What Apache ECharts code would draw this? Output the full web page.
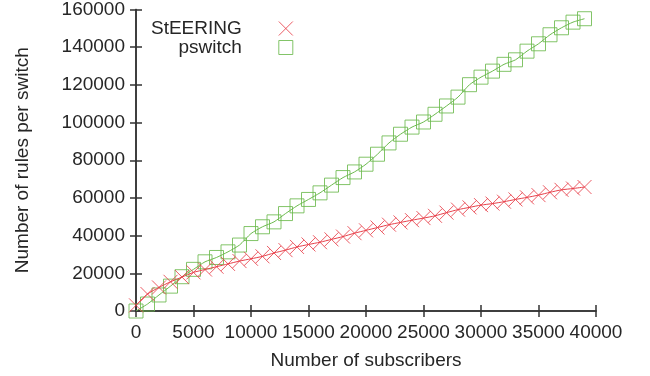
<!DOCTYPE html>
<html>
<head>
<meta charset="utf-8">
<script src="https://cdn.jsdelivr.net/npm/echarts@6/dist/echarts.min.js"></script>
<style>
  html, body { margin: 0; padding: 0; background: #fff; }
  #chart { width: 650px; height: 376px; }
</style>
</head>
<body>
<div id="chart"></div>
<script>
// number of subscribers (x)
const subscribers = [
  0, 1000, 2000, 3000, 4000, 5000, 6000, 7000, 8000, 9000,
  10000, 11000, 12000, 13000, 14000, 15000, 16000, 17000, 18000, 19000,
  20000, 21000, 22000, 23000, 24000, 25000, 26000, 27000, 28000, 29000,
  30000, 31000, 32000, 33000, 34000, 35000, 36000, 37000, 38000, 39000
];

// rules per switch
const steering = [
  3000, 9000, 12500, 15500, 18000, 20500, 22000, 23500, 25000, 26500,
  27700, 29000, 30800, 32300, 34000, 35300, 36500, 38000, 39500, 41300,
  42800, 44300, 45800, 47000, 48200, 49300, 50500, 52200, 53800, 55000,
  56200, 57000, 58000, 59200, 60300, 61500, 63000, 64300, 65000, 65800
];

const pswitch = [
  0, 3700, 8500, 13200, 18200, 22100, 26100, 28400, 31400, 35000,
  41100, 44700, 47300, 51700, 55800, 59200, 62700, 66800, 70800, 73800,
  77900, 83200, 89200, 93800, 97600, 100300, 104400, 108800, 113500, 120100,
  124100, 127300, 130900, 133300, 137900, 141800, 146600, 150300, 153300, 155100
];

const xTicks = { min: 0, max: 40000, interval: 5000 };
const yTicks = { min: 0, max: 160000, interval: 20000 };

const RED = '#e8404a';
const GREEN = '#6cba4e';
const INK = '#262626';
const CROSS = 'path://M0,0L10,10M10,0L0,10';
const FONT = 'Liberation Sans';
const FS = 19;

const chart = echarts.init(document.getElementById('chart'));

function pairs(ys) {
  return subscribers.map((x, i) => [x, ys[i]]);
}

function plain(v) {
  return String(v);
}

function mirrorAxis(pos, ticks) {
  return {
    type: 'value',
    position: pos,
    min: ticks.min,
    max: ticks.max,
    interval: ticks.interval,
    axisLine: { show: true, lineStyle: { color: '#333', width: 1.5 } },
    axisTick: { show: true, inside: true, length: 6, lineStyle: { color: '#333', width: 1.5 } },
    axisLabel: { show: false },
    splitLine: { show: false }
  };
}

chart.setOption({
  animation: false,
  backgroundColor: '#fff',
  textStyle: { fontFamily: FONT },
  grid: { left: 136, right: 54, top: 9, bottom: 65 },
  legend: {
    orient: 'vertical',
    align: 'right',
    left: 146,
    top: 14,
    itemWidth: 14,
    itemHeight: 14,
    itemGap: 0,
    textStyle: { fontFamily: FONT, fontSize: FS, color: INK, padding: [0, 32, 0, 0] },
    data: [
      { name: 'StEERING', icon: CROSS, itemStyle: { color: 'transparent', borderColor: RED, borderWidth: 1 } },
      { name: 'pswitch', icon: 'rect', itemStyle: { color: 'transparent', borderColor: GREEN, borderWidth: 1 } }
    ]
  },
  xAxis: [
    {
      type: 'value',
      position: 'bottom',
      min: xTicks.min,
      max: xTicks.max,
      interval: xTicks.interval,
      name: 'Number of subscribers',
      nameLocation: 'middle',
      nameGap: 40,
      nameTextStyle: { fontFamily: FONT, fontSize: FS, color: INK },
      axisLine: { show: true, lineStyle: { color: '#333', width: 1.5 } },
      axisTick: { show: true, inside: true, length: 6, lineStyle: { color: '#333', width: 1.5 } },
      axisLabel: { color: INK, fontSize: FS, fontFamily: FONT, margin: 12, formatter: plain, showMinLabel: true, showMaxLabel: true },
      splitLine: { show: false }
    },
    mirrorAxis('top', xTicks)
  ],
  yAxis: [
    {
      type: 'value',
      position: 'left',
      min: yTicks.min,
      max: yTicks.max,
      interval: yTicks.interval,
      name: 'Number of rules per switch',
      nameLocation: 'middle',
      nameGap: 104,
      nameTextStyle: { fontFamily: FONT, fontSize: FS, color: INK },
      axisLine: { show: true, lineStyle: { color: '#333', width: 1.5 } },
      axisTick: { show: true, inside: true, length: 6, lineStyle: { color: '#333', width: 1.5 } },
      axisLabel: { color: INK, fontSize: FS, fontFamily: FONT, margin: 11, formatter: plain },
      splitLine: { show: false }
    },
    mirrorAxis('right', yTicks)
  ],
  series: [
    {
      name: 'pswitch',
      type: 'line',
      data: pairs(pswitch),
      smooth: 0.2,
      symbol: 'rect',
      symbolSize: 14,
      showAllSymbol: true,
      color: GREEN,
      itemStyle: { color: 'transparent', borderColor: GREEN, borderWidth: 1, opacity: 0.85 },
      lineStyle: { color: GREEN, width: 1 },
      z: 2
    },
    {
      name: 'StEERING',
      type: 'line',
      data: pairs(steering),
      smooth: 0.2,
      symbol: CROSS,
      symbolSize: 14,
      showAllSymbol: true,
      color: RED,
      itemStyle: { color: 'transparent', borderColor: RED, borderWidth: 1, opacity: 0.85 },
      lineStyle: { color: RED, width: 1 },
      z: 3
    }
  ]
});
</script>
</body>
</html>
